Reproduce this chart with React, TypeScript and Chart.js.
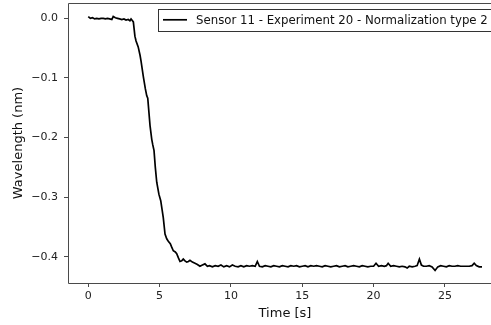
import React, { useEffect, useRef } from "react";
import { Chart, registerables } from "chart.js";

Chart.register(...registerables);

const seriesLabel = "Sensor 11 - Experiment 20 - Normalization type 2";

const times = [
  0, 0.15, 0.3, 0.45, 0.6, 0.75, 0.9, 1.05, 1.2, 1.35, 1.5, 1.65, 1.75, 1.9, 2.05, 2.2, 2.35, 2.5, 2.65, 2.8, 2.92, 3.0, 3.1,
  3.16, 3.27, 3.35, 3.5, 3.63, 3.7, 3.86, 4.0, 4.1, 4.17, 4.33, 4.45, 4.52, 4.61, 4.7, 4.8, 4.95, 5.08, 5.18, 5.26, 5.38,
  5.5, 5.61, 5.75, 5.85, 5.96, 6.1, 6.2, 6.32, 6.43, 6.55, 6.66, 6.78, 6.9, 7.02, 7.13, 7.3, 7.48, 7.65, 7.83, 8.0, 8.18, 8.35,
  8.5, 8.7, 8.9, 9.1, 9.3, 9.5, 9.7, 9.9, 10.1, 10.3, 10.5, 10.7, 10.9, 11.1, 11.3, 11.5, 11.7, 11.85, 12.0, 12.2, 12.4,
  12.6, 12.8, 13.0, 13.2, 13.4, 13.6, 13.8, 14.0, 14.2, 14.4, 14.6, 14.8, 15.0, 15.2, 15.4, 15.6, 15.8, 16.0, 16.2, 16.4,
  16.6, 16.8, 17.0, 17.2, 17.4, 17.6, 17.8, 18.0, 18.2, 18.4, 18.6, 18.8, 19.0, 19.2, 19.4, 19.6, 19.8, 20.0, 20.17, 20.35,
  20.55, 20.75, 20.9, 21.02, 21.2, 21.4, 21.6, 21.8, 22.0, 22.2, 22.35, 22.5, 22.7, 22.9, 23.05, 23.21, 23.35, 23.5, 23.7,
  23.9, 24.1, 24.31, 24.5, 24.7, 24.9, 25.1, 25.3, 25.5, 25.7, 25.9, 26.1, 26.3, 26.5, 26.7, 26.9, 27.05, 27.2, 27.4, 27.6,
];

const wavelengths = [
  0.003, 0.0, 0.001, -0.001, 0.0, -0.001, 0.0, 0.0, -0.001, 0.0, -0.001, -0.002, 0.003, 0.001, 0.0, -0.001, -0.002, -0.001, -0.003, -0.002, -0.004, -0.001, -0.004,
  -0.006, -0.03, -0.038, -0.048, -0.062, -0.072, -0.098, -0.118, -0.13, -0.134, -0.18, -0.203, -0.212, -0.222, -0.25, -0.275, -0.295, -0.306, -0.322, -0.335, -0.362,
  -0.37, -0.374, -0.378, -0.384, -0.39, -0.392, -0.395, -0.402, -0.408, -0.407, -0.404, -0.407, -0.409, -0.408, -0.406, -0.409, -0.411, -0.413, -0.416, -0.414, -0.412, -0.416,
  -0.415, -0.417, -0.415, -0.416, -0.414, -0.417, -0.415, -0.417, -0.414, -0.416, -0.417, -0.415, -0.417, -0.415, -0.416, -0.415, -0.416, -0.408, -0.416, -0.417, -0.415,
  -0.416, -0.417, -0.415, -0.416, -0.417, -0.415, -0.416, -0.417, -0.415, -0.416, -0.415, -0.417, -0.416, -0.415, -0.417, -0.415, -0.416, -0.415, -0.416, -0.417,
  -0.415, -0.416, -0.417, -0.416, -0.415, -0.417, -0.416, -0.415, -0.417, -0.416, -0.415, -0.416, -0.417, -0.415, -0.416, -0.417, -0.416, -0.416, -0.411, -0.416,
  -0.415, -0.416, -0.415, -0.411, -0.416, -0.415, -0.416, -0.417, -0.416, -0.417, -0.419, -0.416, -0.417, -0.416, -0.415, -0.404, -0.414, -0.416, -0.416,
  -0.415, -0.417, -0.423, -0.417, -0.415, -0.416, -0.417, -0.415, -0.416, -0.416, -0.415, -0.416, -0.416, -0.416, -0.416, -0.415, -0.411, -0.415, -0.417, -0.417,
];

const xTicks = [0, 5, 10, 15, 20, 25];
const yTicks = [0.0, -0.1, -0.2, -0.3, -0.4];
const xTitle = "Time [s]";
const yTitle = "Wavelength (nm)";

const FONT = "'DejaVu Sans', sans-serif";
const SPINE = "#4a4a4a";

const spinePlugin = {
  id: "spines",
  afterDatasetsDraw(chart: any) {
    const { ctx, chartArea } = chart;
    const { left, right, top, bottom } = chartArea;
    ctx.save();
    ctx.strokeStyle = SPINE;
    ctx.lineWidth = 1;
    ctx.beginPath();
    ctx.moveTo(Math.round(left) + 0.5, Math.round(top) + 0.5);
    ctx.lineTo(Math.round(left) + 0.5, Math.round(bottom) + 0.5);
    ctx.lineTo(Math.round(right) + 0.5, Math.round(bottom) + 0.5);
    ctx.lineTo(Math.round(right) + 0.5, Math.round(top) + 0.5);
    ctx.closePath();
    ctx.stroke();
    ctx.restore();
  },
};

const legendPlugin = {
  id: "customLegend",
  afterDraw(chart: any) {
    const { ctx } = chart;
    const label = chart.data.datasets[0].label;
    ctx.save();
    const bx = 158.5;
    const by = 9.5;
    const bw = 340;
    const bh = 22;
    ctx.fillStyle = "rgba(255,255,255,0.9)";
    ctx.fillRect(bx, by, bw, bh);
    ctx.strokeStyle = "#333";
    ctx.lineWidth = 1;
    ctx.strokeRect(bx, by, bw, bh);
    ctx.strokeStyle = "#000";
    ctx.lineWidth = 1.7;
    ctx.beginPath();
    ctx.moveTo(163, 19.8);
    ctx.lineTo(187, 19.8);
    ctx.stroke();
    ctx.fillStyle = "#111";
    ctx.font = `11.75px ${FONT}`;
    ctx.textBaseline = "middle";
    ctx.textAlign = "left";
    ctx.fillText(label, 196, 20.5);
    ctx.restore();
  },
};

export default function App() {
  const canvasRef = useRef<HTMLCanvasElement | null>(null);

  useEffect(() => {
    if (!canvasRef.current) return;
    const points = times.map((t, i) => ({ x: t, y: wavelengths[i] }));
    const chart = new Chart(canvasRef.current, {
      type: "scatter",
      data: {
        datasets: [
          {
            label: seriesLabel,
            data: points,
            showLine: true,
            borderColor: "#000",
            borderWidth: 1.7,
            pointRadius: 0,
            tension: 0,
            fill: false,
          },
        ],
      },
      options: {
        responsive: false,
        animation: false,
        layout: { padding: { top: 3, right: 8, left: 0, bottom: 0 } },
        plugins: {
          legend: { display: false },
          tooltip: { enabled: false },
          title: { display: false },
        },
        scales: {
          x: {
            type: "linear",
            min: -1.42,
            max: 29.0,
            afterFit(scale: any) {
              scale.height = 42;
              scale.paddingLeft = 0;
              scale.paddingRight = 0;
            },
            afterBuildTicks(scale: any) {
              scale.ticks = xTicks.map((v) => ({ value: v }));
            },
            grid: {
              drawOnChartArea: false,
              drawTicks: true,
              tickLength: 4,
              color: SPINE,
              tickColor: SPINE,
            },
            border: { display: false },
            ticks: {
              padding: 3,
              color: "#222",
              font: { family: FONT, size: 11 },
              maxRotation: 0,
              callback: (v: any) => String(v),
            },
            title: {
              display: true,
              text: xTitle,
              color: "#111",
              font: { family: FONT, size: 13 },
              padding: { top: 0, bottom: 4 },
            },
          },
          y: {
            type: "linear",
            min: -0.4441,
            max: 0.0257,
            afterFit(scale: any) {
              scale.width = 68;
              scale.paddingTop = 0;
              scale.paddingBottom = 0;
            },
            afterBuildTicks(scale: any) {
              scale.ticks = yTicks.map((v) => ({ value: v }));
            },
            grid: {
              drawOnChartArea: false,
              drawTicks: true,
              tickLength: 4,
              color: SPINE,
              tickColor: SPINE,
            },
            border: { display: false },
            ticks: {
              padding: 6,
              color: "#222",
              font: { family: FONT, size: 11 },
              callback: (v: any) => Number(v).toFixed(1).replace("-", "\u2212"),
            },
            title: {
              display: true,
              text: yTitle,
              color: "#111",
              font: { family: FONT, size: 13 },
              padding: { top: 11, bottom: 0 },
            },
          },
        },
      },
      plugins: [spinePlugin, legendPlugin],
    });
    return () => chart.destroy();
  }, []);

  return (
    <div
      style={{
        position: "fixed",
        left: 0,
        top: 0,
        width: 491,
        height: 325,
        overflow: "hidden",
        background: "#fff",
      }}
    >
      <canvas ref={canvasRef} width={510} height={325} style={{ display: "block" }} />
    </div>
  );
}
